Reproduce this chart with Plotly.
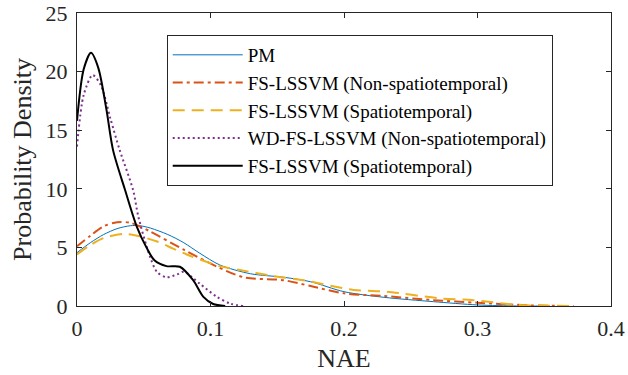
import plotly.graph_objects as go

pm_x = [0, 0.01, 0.02, 0.03, 0.04, 0.047, 0.055, 0.068, 0.08, 0.092, 0.107, 0.13, 0.155, 0.175, 0.2, 0.23, 0.267, 0.3, 0.33, 0.35]
pm_y = [4.55, 5.4, 6.1, 6.6, 6.85, 6.85, 6.65, 6.1, 5.4, 4.5, 3.5, 2.75, 2.45, 2.07, 1.22, 0.74, 0.37, 0.09, 0.0, 0.0]

fsn_x = [0, 0.01, 0.02, 0.03, 0.04, 0.055, 0.08, 0.105, 0.125, 0.155, 0.175, 0.2, 0.23, 0.267, 0.3, 0.34, 0.372]
fsn_y = [5.1, 6.0, 6.8, 7.15, 7.1, 6.35, 4.8, 3.35, 2.45, 2.2, 1.7, 1.08, 0.85, 0.5, 0.28, 0.05, 0]

fss_x = [0, 0.01, 0.02, 0.035, 0.045, 0.06, 0.072, 0.085, 0.107, 0.122, 0.147, 0.172, 0.207, 0.232, 0.272, 0.297, 0.33, 0.37]
fss_y = [4.4, 5.2, 5.8, 6.15, 6.0, 5.5, 4.9, 4.27, 3.4, 3.07, 2.56, 2.15, 1.37, 1.22, 0.65, 0.5, 0.1, 0]

wd_x = [0, 0.005, 0.0117, 0.018, 0.025, 0.032, 0.042, 0.046, 0.0547, 0.06, 0.067, 0.075, 0.08, 0.092, 0.1046, 0.115, 0.125]
wd_y = [13.6, 18.0, 19.7, 18.8, 16.0, 13.3, 9.9, 7.6, 4.2, 2.9, 2.45, 2.7, 2.93, 1.9, 0.8, 0.2, 0]

fsst_x = [0, 0.005, 0.0105, 0.016, 0.022, 0.027, 0.036, 0.0447, 0.052, 0.058, 0.067, 0.077, 0.087, 0.0945, 0.102, 0.111]
fsst_y = [15.8, 20.2, 21.6, 20.3, 16.8, 13.3, 9.9, 6.8, 5.0, 3.9, 3.4, 3.35, 2.2, 0.8, 0.17, 0]

names = ["PM", "FS-LSSVM (Non-spatiotemporal)", "FS-LSSVM (Spatiotemporal)",
         "WD-FS-LSSVM (Non-spatiotemporal)", "FS-LSSVM (Spatiotemporal)"]

x_ticks = [0, 0.1, 0.2, 0.3, 0.4]
y_ticks = [0, 5, 10, 15, 20, 25]

font = "Liberation Serif, Times New Roman, serif"

fig = go.Figure()
series = [
    (pm_x, pm_y, "#0072BD", 1.0, "solid"),
    (fsn_x, fsn_y, "#D95319", 2.0, "10px,4px,3px,4px"),
    (fss_x, fss_y, "#EDB120", 2.0, "12px,7px"),
    (wd_x, wd_y, "#7E2F8E", 2.0, "2px,3px"),
    (fsst_x, fsst_y, "#000000", 2.0, "solid"),
]
for (xs, ys, c, w, d), n in zip(series, names):
    fig.add_trace(go.Scatter(x=xs, y=ys, mode="lines", name=n,
                             line=dict(color=c, width=w, dash=d, shape="spline", smoothing=0.8)))

axis_common = dict(showgrid=False, zeroline=False, showline=True, linecolor="#262626",
                   linewidth=1, mirror="ticks", ticks="inside", ticklen=5, tickcolor="#262626",
                   automargin=False,
                   tickfont=dict(family=font, size=22, color="#262626"))
fig.update_xaxes(range=[0, 0.4], tickvals=x_ticks, ticktext=[f"{v:g}" for v in x_ticks],
                 ticklabelstandoff=3,
                 title=dict(text="NAE", font=dict(family=font, size=26, color="#262626"), standoff=8),
                 **axis_common)
fig.update_yaxes(range=[0, 25], tickvals=y_ticks, ticklabelstandoff=4,
                 title=dict(text="Probability Density", font=dict(family=font, size=26, color="#262626"), standoff=6),
                 **axis_common)

fig.update_layout(
    width=628, height=375,
    margin=dict(l=77, r=17, t=13, b=69),
    plot_bgcolor="white", paper_bgcolor="white",
    legend=dict(x=0.168, y=0.925, xanchor="left", yanchor="top",
                bgcolor="white", bordercolor="#262626", borderwidth=1,
                font=dict(family=font, size=19, color="#000000"),
                tracegroupgap=0, itemwidth=70),
    showlegend=True,
)

fig.write_html("out.html")
